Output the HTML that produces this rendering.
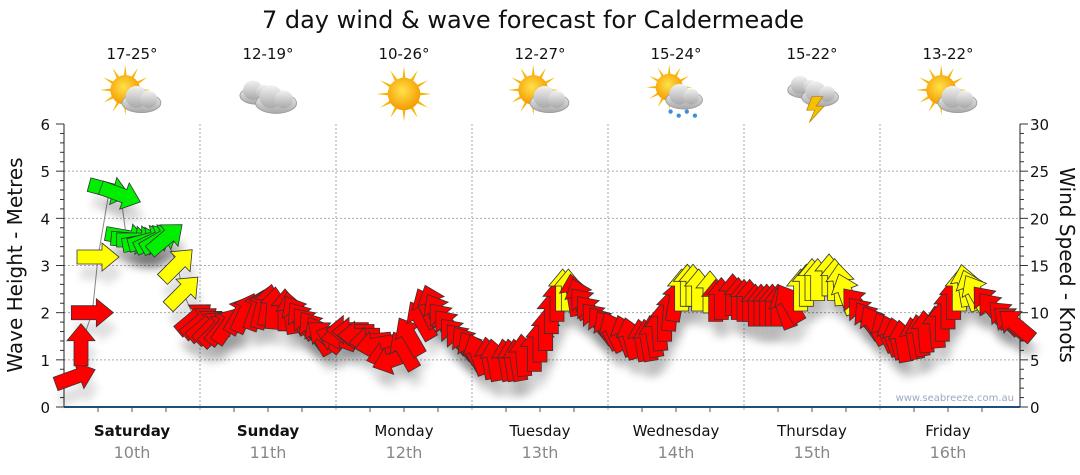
<!DOCTYPE html>
<html><head><meta charset="utf-8">
<style>
body{margin:0;background:#fff;width:1080px;height:475px;overflow:hidden;font-family:"DejaVu Sans","Liberation Sans",sans-serif;}
svg{display:block}
</style></head><body>
<svg id="chart" width="1080" height="475" xmlns="http://www.w3.org/2000/svg">
<defs>
<radialGradient id="sunG" cx="45%" cy="40%" r="60%"><stop offset="0" stop-color="#ffe24a"/><stop offset="1" stop-color="#f59a00"/></radialGradient>
<linearGradient id="cloudG" x1="0" y1="0" x2="0" y2="1"><stop offset="0" stop-color="#f2f2f2"/><stop offset="1" stop-color="#a8a8a8"/></linearGradient>
<filter id="sh" x="-50%" y="-50%" width="200%" height="200%"><feGaussianBlur stdDeviation="4"/></filter>
</defs>
<text x="533" y="28" text-anchor="middle" font-size="24" fill="#111">7 day wind &amp; wave forecast for Caldermeade</text>
<g id="grid"></g>
<g id="axes"></g>
<g id="icons"></g>
<g id="marks"></g>
<text transform="translate(22,265) rotate(-90)" text-anchor="middle" font-size="20" fill="#111">Wave Height - Metres</text>
<text transform="translate(1060,265) rotate(90)" text-anchor="middle" font-size="20" fill="#111">Wind Speed - Knots</text>
<text x="1014" y="401" text-anchor="end" font-size="10" fill="#9aa8c0">www.seabreeze.com.au</text>
</svg>
<script>
const days = ["Saturday","Sunday","Monday","Tuesday","Wednesday","Thursday","Friday"];
const dates = ["10th","11th","12th","13th","14th","15th","16th"];
const temps = ["17-25°","12-19°","10-26°","12-27°","15-24°","15-22°","13-22°"];
const weather = ["partly","cloudy","sunny","partly","showers","storm","partly"];
const waveTicks = [0,1,2,3,4,5,6];
const windTicks = [0,5,10,15,20,25,30];
const hours = [2,3,5,6,8,10,11,12,13,14,15,16,17,18,20,21,23,24,25,26,27,28,29,31,32,34,35,36,37,39,40,41,42,43,44,45,46,48,49,50,51,52,54,55,57,58,60,61,63,64,65,66,67,68,69,70,71,72,73,75,76,78,79,80,81,83,84,85,86,87,88,89,90,91,92,93,94,95,96,97,99,100,102,103,104,105,106,107,108,109,110,111,112,114,115,116,118,119,120,121,122,123,124,125,126,127,128,130,131,132,133,135,136,137,138,140,141,142,143,145,146,147,148,150,151,152,154,155,156,157,158,159,160,161,163,164,166,167,168];
const knots = [3.2,6.6,10,15.9,23,22.5,18,17.7,17.7,17.5,17.7,17.7,17.8,17.9,15.1,12.2,9.4,9,8.7,8.5,8.2,8.5,8.7,9.8,10,10.3,10.5,10.8,10.5,10.3,10,9.8,9.2,8.7,8.2,7.6,7.5,7.3,7.6,8.2,8,7.6,7,6.6,5.5,5,6,7.5,9.2,10.5,10.8,10,9.2,8.5,7.6,7,6.6,6,5.6,5.2,5,5,5,5,5.5,6,7,8.2,10,11.3,12.4,12.4,11.9,11.5,10.8,10,9.2,8.7,8.2,8,7.6,7.3,7.1,7.1,7.5,8.2,9.2,10.3,11.3,12.4,12.9,12.9,12.4,12.2,11.3,11.5,11.9,11.5,11.3,11.3,10.8,10.8,10.8,10.8,10.8,10.5,11,12.4,12.9,13.5,13.5,14,13.5,13,12,10.8,9.8,9.2,8.7,8,7.6,7.3,7,7.3,7.6,8,8.5,9.2,10.5,11.5,12.4,12.9,12.4,12,11,10.3,9.5,9,8.7];
const dirs = [-20,-90,0,0,15,20,10,5,0,-10,-15,-25,-30,-40,-45,-45,-40,-40,-40,-45,-45,-50,-55,-60,-65,-70,-75,-80,-85,-90,-100,-120,-125,-130,-125,-120,-140,-160,170,180,180,180,175,170,165,160,-120,-120,-120,-115,-110,-120,-130,-130,-130,-130,-125,-120,-110,-100,-100,-100,-100,-100,-95,-90,-90,-90,-90,-90,-90,-90,-100,-110,-130,-130,-130,-125,-120,-115,-110,-105,-100,-100,-100,-95,-90,-85,-80,-90,-90,-90,-90,-90,-90,-90,-90,-90,-90,-90,-90,-90,-90,-90,-90,-110,-120,-90,-90,-90,-90,-90,-90,-95,-110,-130,-130,-125,-120,-115,-110,-105,-100,-100,-100,-95,-95,-90,-90,-90,-90,-100,-110,-120,-130,-130,-135,-140,-140];

const NS="http://www.w3.org/2000/svg";
const X0=64,X1=1020,Y0=407,Y1=124,DAYW=136;
const xOf=h=>X0+h*DAYW/24;
const yWave=m=>Y0-(m/6)*(Y0-Y1);
const yWind=k=>Y0-(k/30)*(Y0-Y1);
function mk(tag,attrs,parent){const e=document.createElementNS(NS,tag);for(const k in attrs)e.setAttribute(k,attrs[k]);parent.appendChild(e);return e;}
const grid=document.getElementById('grid'),axes=document.getElementById('axes'),icons=document.getElementById('icons'),marks=document.getElementById('marks');

waveTicks.forEach(t=>{
  if(t>0&&t<6){const l=mk('line',{x1:X0,x2:X1,y1:yWave(t),y2:yWave(t),stroke:'#aaa','stroke-dasharray':'2,2','stroke-width':1},grid);
  
  }
  const tx=mk('text',{x:50,y:yWave(t)+6,'text-anchor':'end','font-size':15,fill:'#111'},axes);tx.textContent=t;
  
  
});
windTicks.forEach(t=>{
  const tx=mk('text',{x:1030,y:yWind(t)+6,'font-size':15,fill:'#111'},axes);tx.textContent=t;
  
  
});
for(let i=0;i<=30;i++){const y=yWave(i*0.2);mk('line',{x1:i%5==0?X0-8:X0-4,x2:X0,y1:y,y2:y,stroke:'#333'},axes);mk('line',{x1:X1,x2:i%5==0?X1+8:X1+4,y1:y,y2:y,stroke:'#333'},axes);}
mk('line',{x1:X0,x2:X0,y1:Y1,y2:Y0,stroke:'#222'},axes);
mk('line',{x1:X1,x2:X1,y1:Y1,y2:Y0,stroke:'#222'},axes);
days.forEach((d,i)=>{
  const cx=X0+DAYW*i+DAYW/2;
  if(i>0){const l=mk('line',{x1:X0+DAYW*i,x2:X0+DAYW*i,y1:Y1,y2:Y0+5,stroke:'#aaa','stroke-dasharray':'2,2'},grid);
  
  }
  for(let q=1;q<4;q++){mk('line',{x1:X0+DAYW*i+34*q,x2:X0+DAYW*i+34*q,y1:Y0,y2:Y0+5,stroke:'#555'},axes);}
  const t=mk('text',{x:cx,y:436,'text-anchor':'middle','font-size':15,fill:'#111','font-weight':i<2?'bold':'normal'},axes);t.textContent=d;
  
  
  const t2=mk('text',{x:cx,y:458,'text-anchor':'middle','font-size':16,fill:'#888'},axes);t2.textContent=dates[i];
  
  
  const t3=mk('text',{x:cx,y:59,'text-anchor':'middle','font-size':15,fill:'#111'},icons);t3.textContent=temps[i];
  
  
  const g=mk('g',{transform:`translate(${cx},94) scale(1.35)`},icons);
  
  
  drawIcon(g,weather[i]);
});
mk('line',{x1:X0,x2:X1,y1:Y0,y2:Y0,stroke:'#1f4e79','stroke-width':2},axes);

function sun(g,x,y,r){for(let a=0;a<360;a+=30){mk('polygon',{points:`${x+Math.cos((a-8)*Math.PI/180)*r*0.8},${y+Math.sin((a-8)*Math.PI/180)*r*0.8} ${x+Math.cos(a*Math.PI/180)*r*1.7},${y+Math.sin(a*Math.PI/180)*r*1.7} ${x+Math.cos((a+8)*Math.PI/180)*r*0.8},${y+Math.sin((a+8)*Math.PI/180)*r*0.8}`,fill:'#f7b500'},g);}mk('circle',{cx:x,cy:y,r:r,fill:'url(#sunG)'},g);}
function cloud(g,x,y,s){mk('ellipse',{cx:x,cy:y+4*s,rx:16*s,ry:8*s,fill:'url(#cloudG)',stroke:'#999','stroke-width':0.6},g);mk('circle',{cx:x-4*s,cy:y-1*s,r:9*s,fill:'url(#cloudG)'},g);mk('circle',{cx:x+6*s,cy:y+1*s,r:7*s,fill:'url(#cloudG)'},g);}
function drawIcon(g,w){
  if(w=='sunny'){sun(g,0,0,12);}
  else if(w=='partly'){sun(g,-5,-3,11);cloud(g,7,3,0.9);}
  else if(w=='cloudy'){cloud(g,-8,-2,0.8);cloud(g,6,3,0.95);}
  else if(w=='showers'){sun(g,-5,-5,10);cloud(g,6,1,0.85);for(let i=0;i<4;i++)mk('circle',{cx:-4+i*6,cy:13+(i%2)*3,r:1.6,fill:'#3a8fd8'},g);}
  else {cloud(g,-6,-6,0.75);cloud(g,6,-1,0.85);mk('polygon',{points:'0,2 8,2 3,9 9,9 -2,21 2,12 -4,12',fill:'#f5c000',stroke:'#b08000','stroke-width':0.5},g);}
}
const n=Math.min(hours.length,knots.length,dirs.length);
let pts=hours.slice(0,n).map((h,i)=>`${xOf(h)},${yWind(knots[i])}`).join(' ');
const pl=mk('polyline',{points:pts,fill:'none',stroke:'#888','stroke-width':1},marks);


const arrowPts='-21,-7 4,-7 4,-14 21,0 4,14 4,7 -21,7';
for(let i=0;i<n;i++){
  mk('polygon',{points:arrowPts,fill:'#000','fill-opacity':0.12,filter:'url(#sh)',transform:`translate(${xOf(hours[i])+4},${yWind(knots[i])+16}) rotate(${dirs[i]})`},marks);
}
for(let i=0;i<n;i++){
  const k=knots[i];
  const col=k>=17.5?'#00ee00':(k>=12?'#ffff00':'#ff0000');
  const a=mk('polygon',{points:arrowPts,fill:col,stroke:'#333','stroke-width':0.8,transform:`translate(${xOf(hours[i])},${yWind(k)}) rotate(${dirs[i]})`},marks);
  
  
}
</script>
</body></html>
